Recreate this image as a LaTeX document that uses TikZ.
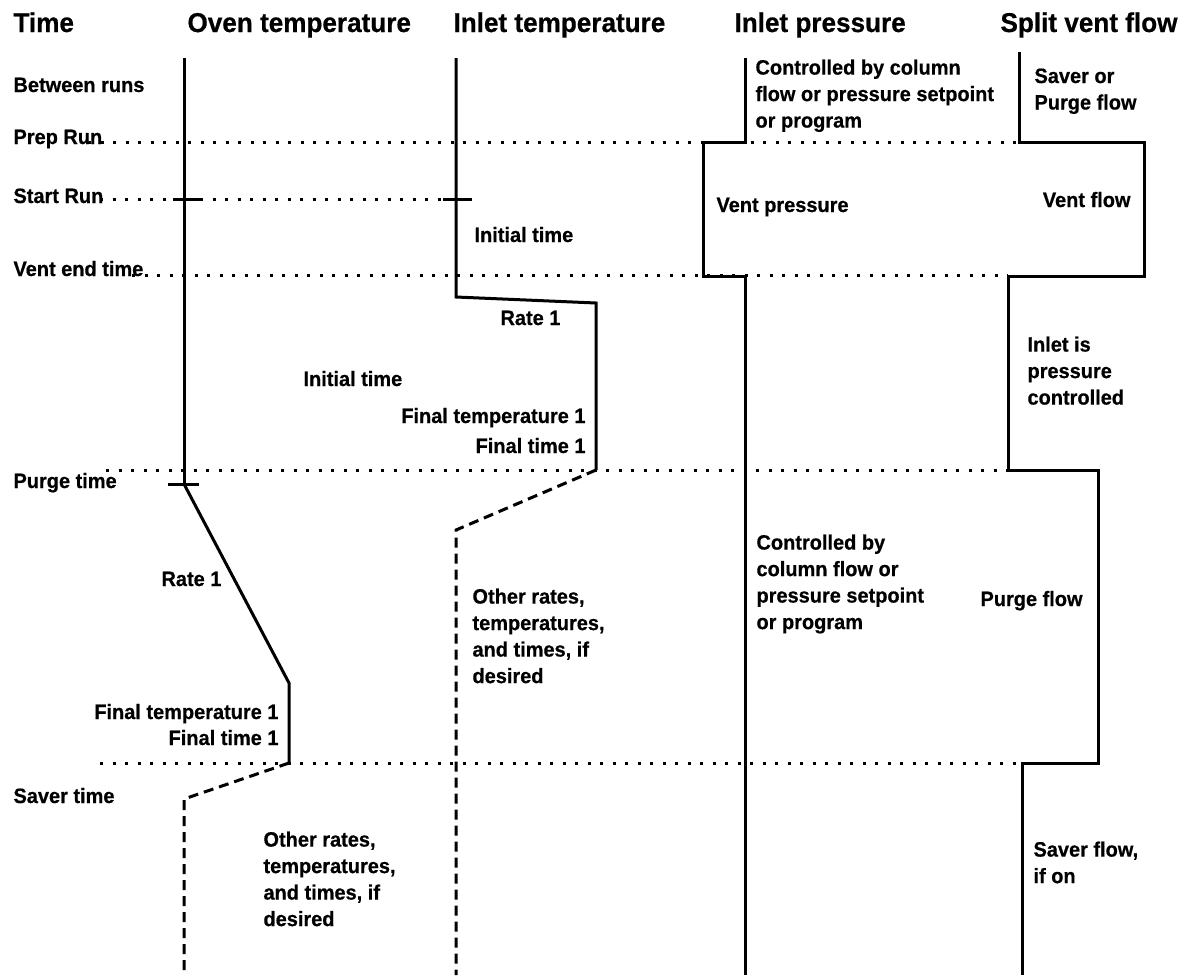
\documentclass[tikz,border=0pt]{standalone}
\usepackage{fontspec}
\setmainfont{Liberation Sans}[BoldFeatures={FakeBold=0.6, FakeStretch=0.96}]

\begin{document}
\begin{tikzpicture}[x=0.5pt, y=-0.5pt, line width=1.5pt,
	every node/.style={font=\fontsize{10.4}{13.25}\selectfont\bfseries, inner sep=0pt},
	head/.style={font=\fontsize{13.6}{16}\selectfont\bfseries, anchor=base west},
	lbl/.style={anchor=base west},
	lblr/.style={anchor=base east},
	para/.style={anchor=north west, align=left},
	timeline/.style={dash pattern=on 1.5pt off 4.75pt},
	later/.style={dash pattern=on 5pt off 3pt}]
	\useasboundingbox (0,0) rectangle (1188,975);
	% column headings
	\node[head] (hTime) at (12,32) {Time};
	\node[head] (hOven) at (186,32) {Oven temperature};
	\node[head] (hInlT) at (452,32) {Inlet temperature};
	\node[head] (hInlP) at (733,32) {Inlet pressure};
	\node[head] (hSplit) at (999,32) {Split vent flow};
	% events
	\node[lbl] (tBetween) at (12,92) {Between runs};
	\node[lbl] (tPrep) at (12,144) {Prep Run};
	\node[lbl] (tStart) at (12,203) {Start Run};
	\node[lbl] (tVent) at (12,276) {Vent end time};
	\node[lbl] (tPurge) at (12,488) {Purge time};
	\node[lbl] (tSaver) at (12,803) {Saver time};
	\draw[timeline] (88,142) -- (1019,142);
	\draw[timeline] (100,199) -- (443,199);
	\draw[timeline] (132,275) -- (1008,275);
	\draw[timeline] (106,470) -- (1008,470);
	\draw[timeline] (100,763) -- (1022,763);
	% oven temperature
	\draw (184,58) -- (184,484);
	\draw (173,199) -- (202,199);
	\draw (168,484) -- (199,484);
	\draw (184,484) -- (289,683) -- (289,763);
	\draw[later] (289,763) -- (184,799) -- (184,975);
	\node[lbl] (ovInit) at (302,386) {Initial time};
	\node[lbl] (ovRate) at (160,586) {Rate 1};
	\node[lblr] (ovFinTemp) at (280,719) {Final temperature 1};
	\node[lblr] (ovFinTime) at (280,745) {Final time 1};
	\node[para] (ovOther) at (262,830) {Other rates,\\temperatures,\\and times, if\\desired};
	% inlet temperature
	\draw (456,58) -- (456,297) -- (596,303) -- (596,470);
	\draw (443,199) -- (472,199);
	\draw[later] (596,470) -- (456,530) -- (456,975);
	\node[lbl] (inInit) at (473,242) {Initial time};
	\node[lbl] (inRate) at (499,325) {Rate 1};
	\node[lblr] (inFinTemp) at (587,423) {Final temperature 1};
	\node[lblr] (inFinTime) at (587,453) {Final time 1};
	\node[para] (inOther) at (471,587) {Other rates,\\temperatures,\\and times, if\\desired};
	% inlet pressure
	\draw (745,58) -- (745,142) -- (703,142) -- (703,276) -- (745,276) -- (745,975);
	\node[para] (prTop) at (754,58) {Controlled by column\\flow or pressure setpoint\\or program};
	\node[lbl] (prVent) at (715,212) {Vent pressure};
	\node[para] (prLow) at (755,533) {Controlled by\\column flow or\\pressure setpoint\\or program};
	% split vent flow
	\draw (1019,52) -- (1019,142) -- (1144,142) -- (1144,276) -- (1008,276) -- (1008,470)
		-- (1098,470) -- (1098,763) -- (1022,763) -- (1022,975);
	\node[para] (svTop) at (1033,67) {Saver or\\Purge flow};
	\node[lblr] (svVent) at (1132,207) {Vent flow};
	\node[para] (svInlet) at (1026,335) {Inlet is\\pressure\\controlled};
	\node[lbl] (svPurge) at (979,606) {Purge flow};
	\node[para] (svSaver) at (1032,840) {Saver flow,\\if on};
\end{tikzpicture}
\end{document}
